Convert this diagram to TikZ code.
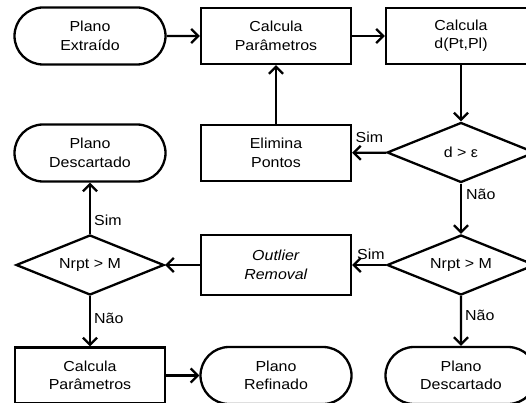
\documentclass[tikz,border=0pt]{standalone}
\usepackage{fontspec}
\setmainfont[FakeStretch=1.1]{Liberation Sans}
\usepackage{tikz}
\usetikzlibrary{arrows.meta,shapes.geometric,shapes.misc}

\begin{document}
\begin{tikzpicture}[x=1pt,y=-1pt,
    every node/.style={font=\fontsize{14.5}{18.5}\selectfont,align=center},
    term/.style={rounded rectangle,draw,line width=2.3pt,minimum width=151pt,minimum height=57pt,inner sep=0pt},
    proc/.style={rectangle,draw,line width=2.3pt,minimum width=150pt,minimum height=56pt},
    decide/.style={diamond,draw,line width=2.3pt,minimum width=148pt,minimum height=60pt,inner sep=0pt,aspect=2.5},
    lbl/.style={inner sep=1pt}]
\useasboundingbox (0,0) rectangle (526,403);

\node[term] (ext) at (90,36) {Plano\\Extraído};
\node[proc] (par1) at (276,36) {Calcula\\Parâmetros};
\node[proc] (dist) at (461,36) {Calcula\\d(Pt,Pl)};
\node[decide] (deps) at (461,152.5) {d > ε};
\node[proc] (elim) at (276,153) {Elimina\\Pontos};
\node[term] (desc1) at (90,153) {Plano\\Descartado};
\node[decide] (nrl) at (90,265) {Nrpt > M};
\node[proc,minimum height=60pt] (outl) at (276,265) {\textit{Outlier}\\\textit{Removal}};
\node[decide] (nrr) at (461,265) {Nrpt > M};
\node[proc] (par2) at (90,375.5) {Calcula\\Parâmetros};
\node[term] (ref) at (276,375.5) {Plano\\Refinado};
\node[term] (desc2) at (461,375.5) {Plano\\Descartado};

\begin{scope}[>={Straight Barb[length=7pt,width=14pt]},
              every edge/.style={draw=black,line width=2.3pt}]
    \path [->] (ext) edge (par1);
    \path [->] (par1) edge (dist);
    \path [->] (dist) edge (deps);
    \path [->] (deps) edge node[lbl,pos=0,anchor=south east,xshift=-1pt,yshift=8pt] {Sim} (elim);
    \path [->] (elim) edge (par1);
    \path [->] (deps) edge node[lbl,pos=0,anchor=north west,xshift=3pt,yshift=-3pt] {Não} (nrr);
    \path [->] (nrr) edge node[lbl,pos=0,anchor=south east,xshift=1pt,yshift=3pt] {Sim} (outl);
    \path [->] (outl) edge (nrl);
    \path [->] (nrl) edge node[lbl,pos=0.26,anchor=west,xshift=2pt] {Sim} (desc1);
    \path [->] (nrl) edge node[lbl,pos=0.45,anchor=west,xshift=2pt] {Não} (par2);
    \path [->] (nrr) edge node[lbl,pos=0.38,anchor=west,xshift=2pt] {Não} (desc2);
    \path [->] (par2) edge (ref);
\end{scope}
\end{tikzpicture}
\end{document}
